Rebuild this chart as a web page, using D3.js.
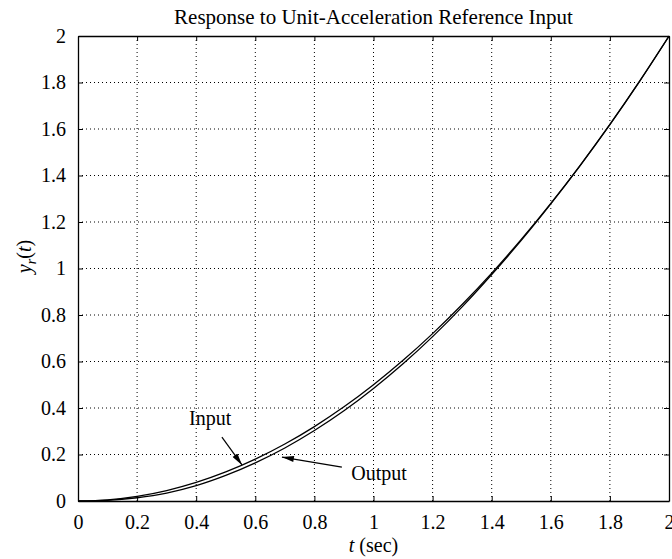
<!DOCTYPE html>
<html>
<head>
<meta charset="utf-8">
<script src="https://cdn.jsdelivr.net/npm/d3@7"></script>
<style>
  body { margin: 0; background: #fff; }
  svg { font-family: 'Liberation Serif', 'DejaVu Serif', serif; }
</style>
</head>
<body>
<div id="chart"></div>
<script>
// values
const tValues = [0, 0.1, 0.2, 0.3, 0.4, 0.5, 0.6, 0.7, 0.8, 0.9, 1.0,
  1.1, 1.2, 1.3, 1.4, 1.5, 1.6, 1.7, 1.8, 1.9, 2.0]
const inputValues = [0, 0.005, 0.02, 0.045, 0.08, 0.125, 0.18, 0.245, 0.32, 0.405, 0.5,
  0.605, 0.72, 0.845, 0.98, 1.125, 1.28, 1.445, 1.62, 1.805, 2.0]
const outputValues = [0, 0.003, 0.014, 0.034, 0.066, 0.11, 0.164, 0.228, 0.303, 0.388, 0.484,
  0.59, 0.707, 0.835, 0.974, 1.121, 1.278, 1.444, 1.619, 1.804, 1.999]
const xTicks = [0, 0.2, 0.4, 0.6, 0.8, 1, 1.2, 1.4, 1.6, 1.8, 2]
const yTicks = [0, 0.2, 0.4, 0.6, 0.8, 1, 1.2, 1.4, 1.6, 1.8, 2]

const width = 672
const height = 559
const margin = { top: 36, right: 3, bottom: 58, left: 78 }
const iw = width - margin.left - margin.right
const ih = height - margin.top - margin.bottom

const svg = d3.select('#chart').append('svg')
  .attr('width', width)
  .attr('height', height)

const x = d3.scaleLinear().domain([0, 2]).range([margin.left, margin.left + iw])
const y = d3.scaleLinear().domain([0, 2]).range([margin.top + ih, margin.top])

// dotted grid
svg.append('g')
  .selectAll('line')
  .data(xTicks.slice(1, -1))
  .join('line')
  .attr('x1', d => x(d)).attr('x2', d => x(d))
  .attr('y1', y(0)).attr('y2', y(2))
  .attr('stroke', '#000').attr('stroke-width', 1)
  .attr('stroke-dasharray', '1,3')

svg.append('g')
  .selectAll('line')
  .data(yTicks.slice(1, -1))
  .join('line')
  .attr('y1', d => y(d)).attr('y2', d => y(d))
  .attr('x1', x(0)).attr('x2', x(2))
  .attr('stroke', '#000').attr('stroke-width', 1)
  .attr('stroke-dasharray', '1,3')

// axes with inward ticks, box all round
const fmt = d => d3.format('')(d)
svg.append('g')
  .attr('transform', `translate(0,${y(0)})`)
  .call(d3.axisBottom(x).tickValues(xTicks).tickSizeInner(-5).tickSizeOuter(0).tickPadding(14).tickFormat(fmt))
svg.append('g')
  .attr('transform', `translate(${x(0)},0)`)
  .call(d3.axisLeft(y).tickValues(yTicks).tickSizeInner(-5).tickSizeOuter(0).tickPadding(12).tickFormat(fmt))
svg.append('g')
  .attr('transform', `translate(0,${y(2)})`)
  .call(d3.axisTop(x).tickValues(xTicks).tickSizeInner(-5).tickSizeOuter(0).tickFormat(''))
svg.append('g')
  .attr('transform', `translate(${x(2)},0)`)
  .call(d3.axisRight(y).tickValues(yTicks).tickSizeInner(-5).tickSizeOuter(0).tickFormat(''))

svg.selectAll('.domain').attr('stroke', '#000').attr('stroke-width', 1.3)
svg.selectAll('.tick line').attr('stroke', '#000')
svg.selectAll('.tick text')
  .attr('font-size', 20)
  .attr('font-family', 'Liberation Serif')
  .attr('fill', '#000')

// curves
const pts = vals => tValues.map((t, i) => [t, vals[i]])
const line = d3.line().x(d => x(d[0])).y(d => y(d[1])).curve(d3.curveMonotoneX)

svg.append('path')
  .datum(pts(inputValues))
  .attr('d', line)
  .attr('fill', 'none').attr('stroke', '#000').attr('stroke-width', 1.3)

svg.append('path')
  .datum(pts(outputValues))
  .attr('d', line)
  .attr('fill', 'none').attr('stroke', '#000').attr('stroke-width', 1.3)

// arrows
svg.append('defs').append('marker')
  .attr('id', 'arrow')
  .attr('viewBox', '0 0 12 6')
  .attr('refX', 12).attr('refY', 3)
  .attr('markerWidth', 13).attr('markerHeight', 6)
  .attr('markerUnits', 'userSpaceOnUse')
  .attr('orient', 'auto')
  .append('path')
  .attr('d', 'M0,0 L12,3 L0,6 Z')
  .attr('fill', '#000')

const arrows = [
  { from: [0.487, 0.275], to: [0.555, 0.155] },
  { from: [0.893, 0.146], to: [0.69, 0.189] }
]
svg.append('g')
  .selectAll('line')
  .data(arrows)
  .join('line')
  .attr('x1', d => x(d.from[0])).attr('y1', d => y(d.from[1]))
  .attr('x2', d => x(d.to[0])).attr('y2', d => y(d.to[1]))
  .attr('stroke', '#000').attr('stroke-width', 1.2)
  .attr('marker-end', 'url(#arrow)')

const notes = [
  { text: 'Input', at: [0.447, 0.327] },
  { text: 'Output', at: [1.019, 0.09] }
]
svg.append('g')
  .selectAll('text')
  .data(notes)
  .join('text')
  .attr('x', d => x(d.at[0])).attr('y', d => y(d.at[1]))
  .attr('text-anchor', 'middle')
  .attr('font-size', 20)
  .text(d => d.text)

// title and labels
svg.append('text')
  .attr('x', (x(0) + x(2)) / 2)
  .attr('y', 24)
  .attr('text-anchor', 'middle')
  .attr('font-size', 21)
  .text('Response to Unit-Acceleration Reference Input')

const xl = svg.append('text')
  .attr('x', (x(0) + x(2)) / 2)
  .attr('y', 552)
  .attr('text-anchor', 'middle')
  .attr('font-size', 20)
xl.append('tspan').attr('font-style', 'italic').text('t')
xl.append('tspan').text(' (sec)')

const yl = svg.append('text')
  .attr('transform', `translate(31,${(y(0) + y(2)) / 2 - 12}) rotate(-90)`)
  .attr('text-anchor', 'middle')
  .attr('font-size', 20)
yl.append('tspan').attr('font-style', 'italic').text('y')
yl.append('tspan').attr('font-style', 'italic').attr('font-size', 14).attr('dy', 5).text('r')
yl.append('tspan').attr('dy', -5).text('(')
yl.append('tspan').attr('font-style', 'italic').text('t')
yl.append('tspan').text(')')
</script>
</body>
</html>
